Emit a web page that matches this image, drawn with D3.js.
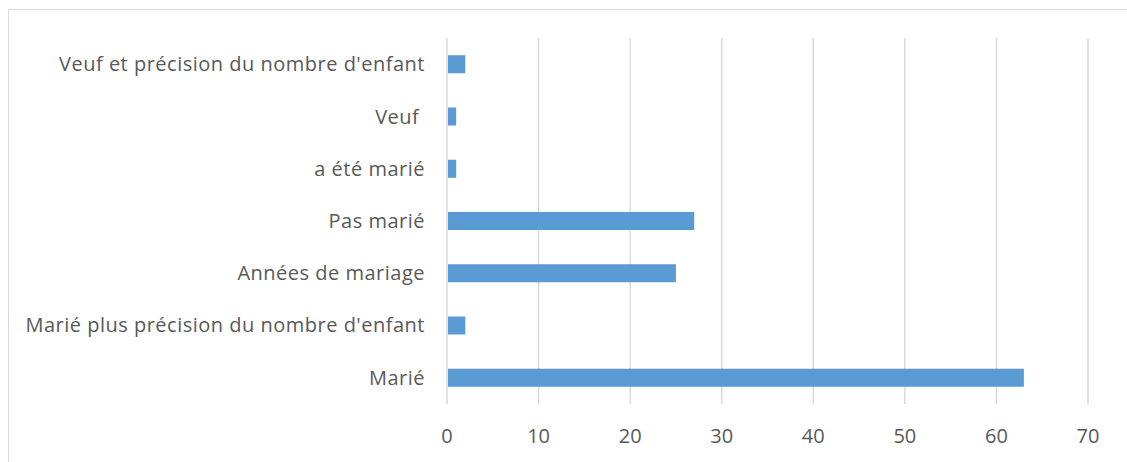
<!DOCTYPE html>
<html>
<head>
<meta charset="utf-8">
<script src="https://cdn.jsdelivr.net/npm/d3@7"></script>
<style>
  body { margin: 0; background: #fff; }
  text { font-family: "Open Sans", sans-serif; fill: #595959; white-space: pre; }
</style>
</head>
<body>
<svg class="chart" width="1127" height="462"></svg>
<script>
var categories = ["Veuf et précision du nombre d'enfant", "Veuf ", "a été marié", "Pas marié",
    "Années de mariage", "Marié plus précision du nombre d'enfant", "Marié"];
var values = [2, 1, 1, 27, 25, 2, 63];
var ticks = [0, 10, 20, 30, 40, 50, 60, 70];

var svg = d3.select("svg.chart"),
    width = +svg.attr("width"),
    height = +svg.attr("height");

// chart border (top and left edges visible)
svg.append("path")
    .attr("d", "M8.5," + height + "V9.5H" + width)
    .attr("fill", "none")
    .attr("stroke", "#d9d9d9");

var x = d3.scaleLinear().domain([0, 70]).range([447, 1088]);
var y = d3.scaleBand().domain(categories).range([38, 404]).paddingInner(0.655).paddingOuter(0.33);

var g = svg.append("g");

g.selectAll(".grid")
    .data(ticks)
    .enter().append("line")
    .attr("class", "grid")
    .attr("x1", function (d) { return x(d); })
    .attr("x2", function (d) { return x(d); })
    .attr("y1", 38)
    .attr("y2", 404)
    .attr("stroke", "#d9d9d9")
    .attr("stroke-width", 1.5);

g.selectAll(".bar")
    .data(values)
    .enter().append("rect")
    .attr("class", "bar")
    .attr("x", x(0) + 1)
    .attr("y", function (d, i) { return y(categories[i]); })
    .attr("width", function (d) { return x(d) - x(0) - 1; })
    .attr("height", y.bandwidth())
    .attr("fill", "#5b9bd5");

g.selectAll(".cat")
    .data(categories)
    .enter().append("text")
    .attr("class", "cat")
    .attr("x", 425)
    .attr("y", function (d) { return y(d) + y.bandwidth() / 2; })
    .attr("dy", "0.35em")
    .attr("text-anchor", "end")
    .attr("xml:space", "preserve")
    .style("font-size", "20px")
    .style("letter-spacing", "0.5px")
    .text(function (d) { return d; });

g.selectAll(".tick-label")
    .data(ticks)
    .enter().append("text")
    .attr("class", "tick-label")
    .attr("x", function (d) { return x(d); })
    .attr("y", 436)
    .attr("dy", "0.35em")
    .attr("text-anchor", "middle")
    .style("font-size", "20px")
    .text(function (d) { return d; });
</script>
</body>
</html>
